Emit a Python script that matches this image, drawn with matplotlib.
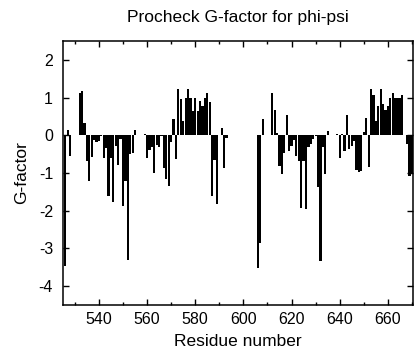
import matplotlib
matplotlib.use("Agg")
import matplotlib.pyplot as plt
from matplotlib.ticker import MultipleLocator

plt.rcParams['font.family'] = ['Liberation Sans', 'DejaVu Sans']
plt.rcParams['axes.unicode_minus'] = False

residues = [526, 527, 528, 532, 533, 534, 535, 536, 537, 538, 539, 540, 541,
            542, 543, 544, 545, 546, 547, 548, 549, 550, 551, 552, 553, 554,
            555, 559, 560, 561, 562, 563, 564, 565, 566, 567, 568, 569, 570,
            571, 572, 573, 574, 575, 576, 577, 578, 579, 580, 581, 582, 583,
            584, 585, 586, 587, 588, 589, 591, 592, 593, 606, 607, 608, 612,
            613, 614, 615, 616, 617, 618, 619, 620, 621, 622, 623, 624, 625,
            626, 627, 628, 629, 630, 631, 632, 633, 634, 635, 639, 640, 641,
            642, 643, 644, 645, 646, 647, 648, 649, 650, 651, 652, 653, 654,
            655, 656, 657, 658, 659, 660, 661, 662, 663, 664, 665, 666, 668,
            669, 670]
gfactor = [-3.48, 0.15, -0.56, 1.12, 1.17, 0.33, -0.69, -1.2, -0.58, -0.12,
           -0.18, -0.14, -0.03, -0.61, -0.35, -1.6, -0.59, -1.77, -0.28, -0.78,
           -0.1, -1.87, -1.2, -3.32, -0.5, -0.47, 0.13, 0.04, -0.59, -0.39,
           -0.3, -0.99, -0.27, -0.32, -0.02, -0.88, -1.16, -1.34, -0.19, 0.44,
           -0.62, 1.23, 0.95, 0.38, 1.0, 1.23, 1.0, 0.64, 1.0, 0.64, 0.9, 0.77,
           1.0, 1.12, 0.88, -1.61, -0.65, -1.82, 0.18, -0.88, -0.06, -3.53,
           -2.87, 0.42, 1.12, 0.67, 0.05, -0.82, -1.03, -0.48, 0.53, -0.41,
           -0.28, -0.12, -0.56, -0.68, -1.92, -0.68, -1.96, -0.32, -0.24, -0.1,
           -0.03, -1.36, -3.33, -0.3, -1.03, 0.11, 0.03, -0.59, 0.04, -0.41,
           0.55, -0.37, -0.28, -0.15, -0.92, -0.98, -0.94, 0.08, 0.45, -0.85,
           1.23, 1.08, 0.38, 0.77, 1.23, 0.82, 0.66, 0.77, 1.0, 1.12, 1.0, 1.0,
           1.0, 1.08, -0.24, -1.07, -1.03]

xticks = [540, 560, 580, 600, 620, 640, 660]
yticks = [-4, -3, -2, -1, 0, 1, 2]

fig = plt.figure(figsize=(4.16, 3.60), dpi=100)
ax = fig.add_axes([0.151, 0.153, 0.841, 0.733])

ax.bar(residues, gfactor, width=0.92, color='black', linewidth=0)

ax.set_xlim(525, 670.3)
ax.set_ylim(-4.5, 2.5)
ax.set_xticks(xticks)
ax.set_yticks(yticks)
ax.xaxis.set_minor_locator(MultipleLocator(10))

ax.tick_params(which='both', direction='in', top=True, right=True,
               labelsize=11.5, width=1.0)
ax.tick_params(which='major', length=4)
ax.tick_params(which='minor', length=2)
ax.tick_params(axis='x', pad=5)
ax.tick_params(axis='y', pad=7)
for s in ax.spines.values():
    s.set_linewidth(1.1)

ax.set_title('Procheck G-factor for phi-psi', fontsize=12.5, pad=14)
ax.set_xlabel('Residue number', fontsize=12.5, labelpad=5)
ax.set_ylabel('G-factor', fontsize=12.5, labelpad=7)

fig.savefig('out.png', dpi=100)
